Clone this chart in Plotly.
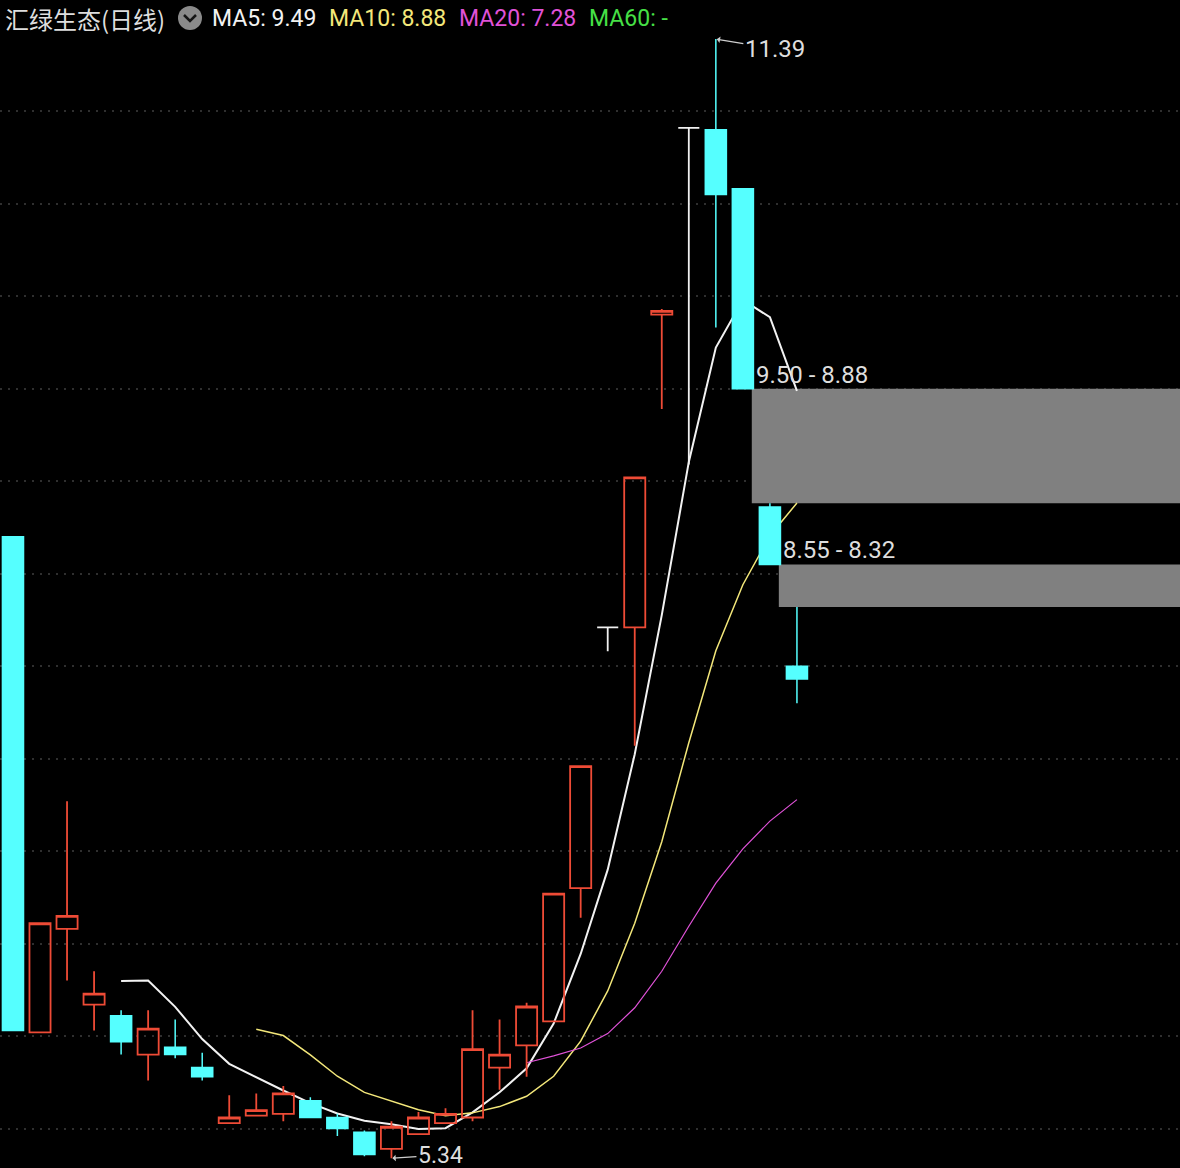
import pandas as pd
import plotly.graph_objects as go

# ── Data ──────────────────────────────────────────────────────────────────────
DAYS  = list(range(1, 31))
OPEN  = [8.70, 6.02, 6.58, 6.17, 6.11, 5.90, 5.94, 5.83, 5.53, 5.57,
         5.58, 5.65, 5.56, 5.48, 5.39, 5.47, 5.53, 5.56, 5.83, 5.95,
         6.08, 6.80, 8.21, 8.21, 9.90, 10.91, 10.90, 10.58, 8.86, 8.00]
HIGH  = [8.70, 6.61, 7.27, 6.35, 6.14, 6.14, 6.09, 5.91, 5.68, 5.69,
         5.73, 5.67, 5.58, 5.49, 5.54, 5.59, 5.61, 6.14, 6.09, 6.18,
         6.77, 7.46, 8.21, 9.02, 9.93, 10.91, 11.39, 10.58, 8.88, 8.32]
LOW   = [6.03, 6.02, 6.30, 6.03, 5.90, 5.76, 5.88, 5.76, 5.53, 5.57,
         5.54, 5.56, 5.46, 5.35, 5.34, 5.47, 5.53, 5.54, 5.71, 5.78,
         6.08, 6.64, 8.08, 7.57, 9.39, 9.09, 9.83, 9.50, 8.55, 7.80]
CLOSE = [6.03, 6.61, 6.65, 6.23, 5.97, 6.04, 5.90, 5.78, 5.56, 5.60,
         5.69, 5.56, 5.50, 5.36, 5.51, 5.56, 5.58, 5.93, 5.90, 6.16,
         6.77, 7.46, 8.21, 9.02, 9.92, 10.91, 10.55, 9.50, 8.55, 7.93]

TITLE       = "汇绿生态(日线)"
MA_WINDOWS  = [5, 10, 20, 60]
MA_COLORS   = ["#f2f2f2", "#f3e77a", "#e052d8", "#46e046"]
MA_WIDTHS   = [2.0, 1.5, 1.2, 1.2]
MA_LABEL_X  = [210, 327, 457, 587]          # px, title row

# unfilled down-gaps: day they start, upper / lower edge
GAP_START   = [28, 29]
GAP_TOP     = [9.50, 8.55]
GAP_BOTTOM  = [8.88, 8.32]

GRID_LEVELS = [5.5, 6.0, 6.5, 7.0, 7.5, 8.0, 8.5, 9.0, 9.5, 10.0, 10.5, 11.0]

# ── Colours / geometry ────────────────────────────────────────────────────────
BG_COLOR   = "#000000"
UP_COLOR   = "#ee4b36"
DOWN_COLOR = "#55ffff"
FLAT_COLOR = "#f0f0f0"
GRID_COLOR = "#2f2f2f"
GAP_COLOR  = "#808080"
TEXT_COLOR = "#dedede"
W, H       = 1180, 1168
X_RANGE    = [0.52, 44.17]
Y_RANGE    = [5.287, 11.601]
NUM_FONT   = "Roboto, 'Noto Sans', sans-serif"
CJK_FONT   = "'Noto Sans CJK SC', 'Noto Sans', sans-serif"


def px(x):
    return x / W


def py(y):
    return 1 - y / H


df = pd.DataFrame({"day": DAYS, "open": OPEN, "high": HIGH,
                   "low": LOW, "close": CLOSE})
for n in MA_WINDOWS:
    df[f"MA{n}"] = df["close"].rolling(n).mean()

fig = go.Figure()

# ── Moving averages (main axes, drawn under the candles) ─────────────────────
for n, color, width in zip(MA_WINDOWS, MA_COLORS, MA_WIDTHS):
    fig.add_trace(go.Scatter(
        x=df["day"], y=df[f"MA{n}"], mode="lines",
        line=dict(color=color, width=width),
        name=f"MA{n}", hoverinfo="skip",
    ))

# ── Candles on an overlaid axis pair so they sit above the MA lines ──────────
flat = df["open"] == df["close"]
for part, up, down, up_fill, down_fill in [
    (df[~flat], UP_COLOR, DOWN_COLOR, "rgba(0,0,0,0)", DOWN_COLOR),
    (df[flat], FLAT_COLOR, FLAT_COLOR, "rgba(0,0,0,0)", "rgba(0,0,0,0)"),
]:
    fig.add_trace(go.Candlestick(
        x=part["day"], open=part["open"], high=part["high"],
        low=part["low"], close=part["close"],
        increasing=dict(line=dict(color=up, width=1.8), fillcolor=up_fill),
        decreasing=dict(line=dict(color=down, width=1.5), fillcolor=down_fill),
        whiskerwidth=0, xaxis="x2", yaxis="y2", hoverinfo="skip",
    ))

# ── Gap zones ─────────────────────────────────────────────────────────────────
for start, top, bottom in zip(GAP_START, GAP_TOP, GAP_BOTTOM):
    fig.add_shape(type="rect", xref="x", yref="y",
                  x0=start + 0.33, x1=X_RANGE[1], y0=bottom, y1=top,
                  fillcolor=GAP_COLOR, line_width=0, layer="between")
    fig.add_annotation(x=start + 0.33, y=top, xref="x", yref="y",
                       text=f"{top:.2f} - {bottom:.2f}", showarrow=False,
                       xanchor="left", yanchor="bottom", xshift=2, yshift=-2,
                       font=dict(family=NUM_FONT, size=24, color=TEXT_COLOR))

# ── High / low markers ────────────────────────────────────────────────────────
hi = df.loc[df["high"].idxmax()]
lo = df.loc[df["low"].idxmin()]
fig.add_annotation(x=hi["day"], y=hi["high"], text=f"{hi['high']:.2f}",
                   showarrow=True, ax=59, ay=10, arrowhead=1, arrowsize=0.9,
                   arrowwidth=1.2, arrowcolor="#cfcfcf", standoff=1,
                   font=dict(family=NUM_FONT, size=24, color=TEXT_COLOR))
fig.add_annotation(x=lo["day"], y=lo["low"], text=f"{lo['low']:.2f}",
                   showarrow=True, ax=49, ay=-3, arrowhead=1, arrowsize=0.9,
                   arrowwidth=1.2, arrowcolor="#cfcfcf", standoff=1,
                   font=dict(family=NUM_FONT, size=23, color=TEXT_COLOR))

# ── Title row ─────────────────────────────────────────────────────────────────
fig.add_annotation(x=px(3), y=py(18), xref="paper", yref="paper",
                   text=TITLE, showarrow=False, xanchor="left", yanchor="middle",
                   font=dict(family=CJK_FONT, size=24, color=TEXT_COLOR))
fig.add_shape(type="circle", xref="paper", yref="paper",
              x0=px(178), x1=px(202), y0=py(30), y1=py(6),
              fillcolor="#8a8a8a", line_width=0)
fig.add_shape(type="path", xref="paper", yref="paper",
              path=f"M {px(184)} {py(15)} L {px(190)} {py(21)} L {px(196)} {py(15)}",
              line=dict(color="#151515", width=2.5))

last = df.iloc[-1]
for n, color, x in zip(MA_WINDOWS, MA_COLORS, MA_LABEL_X):
    val = last[f"MA{n}"]
    val_txt = "-" if pd.isna(val) else f"{val:.2f}"
    fig.add_annotation(x=px(x), y=py(18), xref="paper", yref="paper",
                       text=f"MA{n}: {val_txt}", showarrow=False,
                       xanchor="left", yanchor="middle",
                       font=dict(family=NUM_FONT, size=23, color=color))

fig.update_layout(
    width=W, height=H,
    margin=dict(l=0, r=0, t=0, b=0),
    paper_bgcolor=BG_COLOR, plot_bgcolor=BG_COLOR,
    showlegend=False, boxgap=0.22, boxgroupgap=0, hovermode=False,
    xaxis=dict(range=X_RANGE, visible=False, rangeslider=dict(visible=False)),
    yaxis=dict(range=Y_RANGE, tickvals=GRID_LEVELS, showticklabels=False,
               ticks="", showgrid=True, gridcolor=GRID_COLOR, gridwidth=2,
               griddash="2px,6px", zeroline=False, showline=False),
    xaxis2=dict(overlaying="x", range=X_RANGE, visible=False,
                rangeslider=dict(visible=False)),
    yaxis2=dict(overlaying="y", range=Y_RANGE, visible=False),
)

# page has a default 8px body margin; drop it so the chart fills the window
fig.write_html("out.html", config={"displayModeBar": False},
               post_script="document.body.style.margin='0';"
                           "document.body.style.background='#000';")
